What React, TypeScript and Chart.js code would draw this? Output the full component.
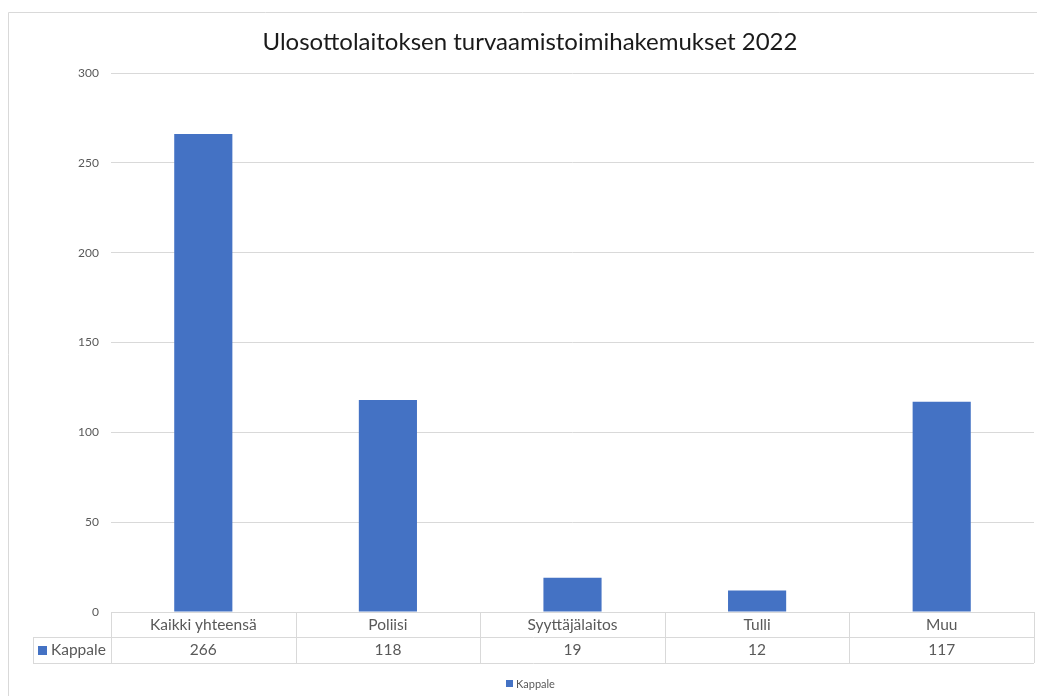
import React, { useEffect, useRef } from "react";
import { Chart, registerables } from "chart.js";

Chart.register(...registerables);

const title = "Ulosottolaitoksen turvaamistoimihakemukset 2022";
const categories = ["Kaikki yhteensä", "Poliisi", "Syyttäjälaitos", "Tulli", "Muu"];
const seriesName = "Kappale";
const values = [266, 118, 19, 12, 117];
const yMin = 0;
const yMax = 300;
const yStep = 50;

const FONT = "Lato, 'Open Sans', sans-serif";
const BAR = "#4472C4";
const GRID = "#d9d9d9";
const TXT = "#595959";

const tablePlugin = {
  id: "excelTable",
  afterDraw(chart: any) {
    const ctx = chart.ctx;
    const area = chart.chartArea;
    const n = categories.length;
    const w = (area.right - area.left) / n;
    const top = area.bottom;
    const mid = top + 25;
    const bot = top + 51;
    const keyLeft = 33;
    ctx.save();
    // frame
    ctx.strokeStyle = GRID;
    ctx.lineWidth = 1;
    ctx.beginPath();
    ctx.moveTo(8.5, 696);
    ctx.lineTo(8.5, 12.5);
    ctx.lineTo(1037, 12.5);
    ctx.stroke();
    // table lines
    ctx.beginPath();
    ctx.moveTo(area.left, top + 0.5);
    ctx.lineTo(area.right, top + 0.5);
    ctx.moveTo(keyLeft, mid + 0.5);
    ctx.lineTo(area.right, mid + 0.5);
    ctx.moveTo(keyLeft, bot + 0.5);
    ctx.lineTo(area.right, bot + 0.5);
    ctx.moveTo(keyLeft + 0.5, mid);
    ctx.lineTo(keyLeft + 0.5, bot);
    for (let i = 0; i <= n; i++) {
      const x = Math.round(area.left + i * w) + 0.5;
      ctx.moveTo(x, top);
      ctx.lineTo(x, bot);
    }
    ctx.stroke();
    // text
    ctx.fillStyle = TXT;
    ctx.font = `15.5px ${FONT}`;
    ctx.textAlign = "center";
    ctx.textBaseline = "middle";
    for (let i = 0; i < n; i++) {
      const cx = area.left + (i + 0.5) * w;
      ctx.fillText(categories[i], cx, top + 13);
      ctx.fillText(String(values[i]), cx, mid + 13);
    }
    // key
    ctx.fillStyle = BAR;
    ctx.fillRect(38, mid + 9, 9, 9);
    ctx.fillStyle = TXT;
    ctx.textAlign = "left";
    ctx.fillText(seriesName, 51, mid + 13);
    // legend
    ctx.fillStyle = BAR;
    ctx.fillRect(506, 680, 7, 7);
    ctx.fillStyle = TXT;
    ctx.font = `11px ${FONT}`;
    ctx.fillText(seriesName, 516, 684);
    // title
    ctx.fillStyle = "#1a1a1a";
    ctx.font = `24px ${FONT}`;
    ctx.textAlign = "center";
    ctx.fillText(title, 530, 42);
    ctx.restore();
  },
};

export default function App() {
  const ref = useRef<HTMLCanvasElement>(null);
  useEffect(() => {
    if (!ref.current) return;
    const chart = new Chart(ref.current, {
      type: "bar",
      data: {
        labels: categories,
        datasets: [
          {
            label: seriesName,
            data: values,
            backgroundColor: BAR,
            categoryPercentage: 1,
            barPercentage: 0.315,
          },
        ],
      },
      options: {
        animation: false,
        responsive: false,
        devicePixelRatio: 1,
        layout: { padding: { top: 73, right: 3, bottom: 84, left: 0 } },
        plugins: {
          legend: { display: false },
          title: { display: false },
          tooltip: { enabled: false },
        },
        scales: {
          x: { display: false },
          y: {
            min: yMin,
            max: yMax,
            ticks: {
              stepSize: yStep,
              color: TXT,
              padding: 12,
              font: { family: FONT, size: 12 },
            },
            grid: { color: GRID, drawTicks: false },
            border: { display: false },
            afterFit(scale: any) {
              scale.width = 111;
            },
          },
        },
      },
      plugins: [tablePlugin],
    });
    return () => chart.destroy();
  }, []);
  return (
    <div style={{ position: "absolute", left: 0, top: 0, width: 1037, height: 696, background: "#fff" }}>
      <canvas ref={ref} width={1037} height={696} style={{ width: 1037, height: 696 }} />
    </div>
  );
}
